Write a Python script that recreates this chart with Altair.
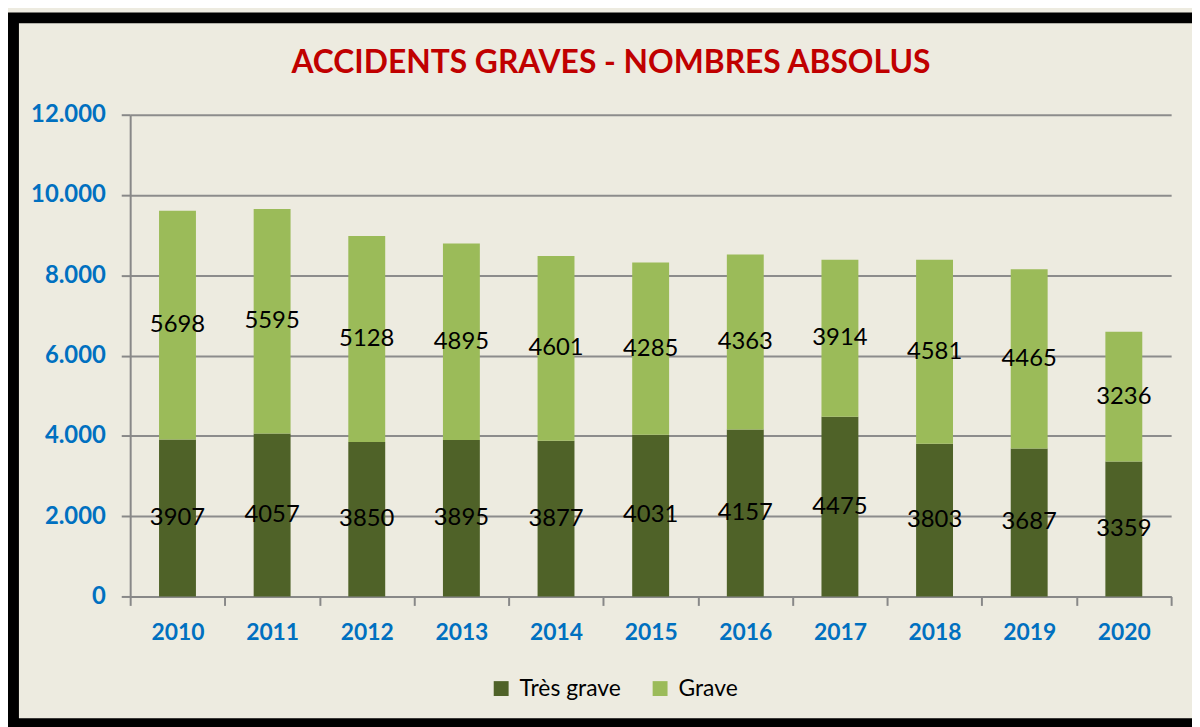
import altair as alt
import pandas as pd

years = ["2010", "2011", "2012", "2013", "2014", "2015", "2016", "2017", "2018", "2019", "2020"]
tres_grave = [3907, 4057, 3850, 3895, 3877, 4031, 4157, 4475, 3803, 3687, 3359]
grave = [5698, 5595, 5128, 4895, 4601, 4285, 4363, 3914, 4581, 4465, 3236]
series = ["Très grave", "Grave"]
colors = ["#4F6228", "#9BBB59"]
y_ticks = [0, 2000, 4000, 6000, 8000, 10000, 12000]
title_text = "ACCIDENTS GRAVES - NOMBRES ABSOLUS"

rows = []
for i, yr in enumerate(years):
    rows.append({"year": yr, "serie": series[0], "value": tres_grave[i], "ord": 0})
    rows.append({"year": yr, "serie": series[1], "value": grave[i], "ord": 1})
df = pd.DataFrame(rows)

W, H = 1048, 485
PAD = {"left": 123, "top": 105, "right": 21, "bottom": 129}
FONT = "Lato"
BG = "#EDEBE0"

x_enc = alt.X(
    "year:N",
    sort=years,
    scale=alt.Scale(paddingInner=0, paddingOuter=0),
    axis=alt.Axis(
        title=None,
        labelAngle=0,
        labelColor="#0070C0",
        labelFont=FONT,
        labelFontWeight="bold",
        labelFontSize=23,
        labelPadding=16,
        domainColor="#888888",
        domainWidth=2,
        tickColor="#888888",
        tickWidth=2,
        tickSize=9,
        tickBand="extent",
        grid=False,
    ),
)

y_scale = alt.Scale(domain=[0, 12000], nice=False)
y_axis = alt.Axis(
    title=None,
    values=y_ticks,
    labelExpr="replace(format(datum.value, ',d'), ',', '.')",
    labelColor="#0070C0",
    labelFont=FONT,
    labelFontWeight="bold",
    labelFontSize=24,
    labelPadding=16,
    domainColor="#888888",
    domainWidth=2,
    tickColor="#888888",
    tickWidth=2,
    tickSize=9,
    grid=True,
    gridColor="#8C8C8C",
    gridWidth=2,
)

base = alt.Chart(df).transform_stack(
    stack="value",
    groupby=["year"],
    as_=["v0", "v1"],
    sort=[alt.SortField("ord", order="ascending")],
).transform_calculate(mid="(datum.v0 + datum.v1) / 2")

bars = base.mark_bar(width=alt.RelativeBandSize(0.39)).encode(
    x=x_enc,
    y=alt.Y("v0:Q", scale=y_scale, axis=y_axis),
    y2="v1:Q",
    color=alt.Color(
        "serie:N",
        scale=alt.Scale(domain=series, range=colors),
        legend=alt.Legend(
            title=None,
            orient="none",
            legendX=362,
            legendY=566,
            direction="horizontal",
            symbolType="square",
            symbolSize=225,
            symbolStrokeWidth=0,
            labelFont=FONT,
            labelFontSize=23,
            labelColor="#000000",
            columnPadding=28,
            labelOffset=7,
        ),
        sort=series,
    ),
)

labels = base.mark_text(font=FONT, fontSize=24, color="#000000", baseline="middle").encode(
    x=alt.X("year:N", sort=years),
    y=alt.Y("mid:Q", scale=y_scale),
    text=alt.Text("value:Q", format="d"),
)

frame_df = pd.DataFrame({"k": [0]})
frame = alt.Chart(frame_df).mark_rect(
    fillOpacity=0, stroke="#000000", strokeWidth=11
).encode(
    x=alt.value(-117.5),
    x2=alt.value(W + 200),
    y=alt.value(-97.5),
    y2=alt.value(613),
)

chart = alt.layer(bars, labels, frame).properties(
    width=W,
    height=H,
    padding=PAD,
    autosize=alt.AutoSizeParams(type="none"),
    background=BG,
    title=alt.TitleParams(
        text=title_text,
        font=FONT,
        fontSize=32,
        fontWeight="bold",
        color="#C00000",
        anchor="middle",
        dx=-40,
        offset=-68,
    ),
).configure_view(stroke=None)

chart.save("out.html", embed_options={"renderer": "svg", "actions": False})
